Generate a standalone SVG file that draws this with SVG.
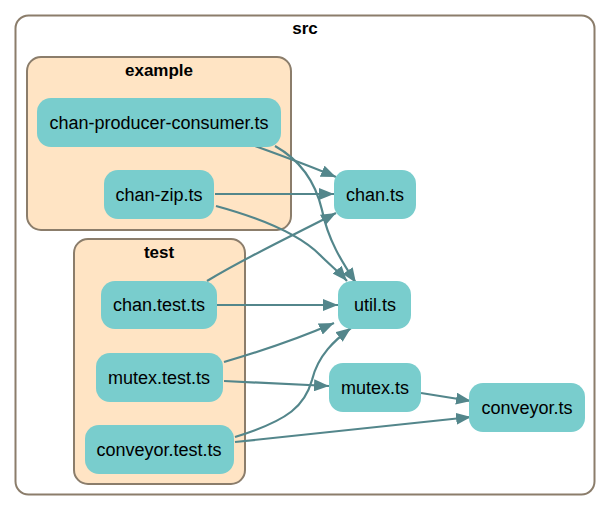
<svg xmlns="http://www.w3.org/2000/svg" width="608" height="511" viewBox="0 0 608 511">
<style>
.cl{stroke:#8b7d6b;stroke-width:2}
.nd{fill:#79cdcd;stroke:none}
.t{font-family:"Liberation Sans",Arial,sans-serif;font-size:18px;fill:#000;text-anchor:middle}
.ct{font-family:"Liberation Sans",Arial,sans-serif;font-size:17px;font-weight:bold;fill:#000;text-anchor:middle}
.e{fill:none;stroke:#53868b;stroke-width:2.2}
</style>
<defs>
<marker id="ah" markerUnits="userSpaceOnUse" markerWidth="16" markerHeight="12" refX="15" refY="6" orient="auto">
<path d="M0,0 L15,6 L0,12 z" fill="#53868b"/>
</marker>
</defs>
<rect width="608" height="511" fill="#fff"/>
<g id="cluster_src">
<rect class="cl" x="15.5" y="15.5" width="579" height="479" rx="13" fill="#fff"/>
<text class="ct" x="305" y="34">src</text>
</g>
<g id="cluster_example">
<rect class="cl" x="27" y="57" width="264" height="173" rx="14" fill="#ffe4c4"/>
<text class="ct" x="159" y="76">example</text>
</g>
<g id="cluster_test">
<rect class="cl" x="74" y="239" width="171" height="245" rx="14" fill="#ffe4c4"/>
<text class="ct" x="159" y="258">test</text>
</g>
<g id="edges">
<path class="e" marker-end="url(#ah)" d="M255,146 C 280,155 310,166 336,177"/>
<path class="e" marker-end="url(#ah)" d="M275,146 C 300,160 315,180 322,210 C 328,240 342,262 356,283"/>
<path class="e" marker-end="url(#ah)" d="M215,194 L334,194"/>
<path class="e" marker-end="url(#ah)" d="M216,206 C 260,218 300,235 320,255 C 330,265 340,273 347,281"/>
<path class="e" marker-end="url(#ah)" d="M207,281 C 250,255 300,232 336,213"/>
<path class="e" marker-end="url(#ah)" d="M217,305 L338,305"/>
<path class="e" marker-end="url(#ah)" d="M224,362 C 265,350 300,338 334,323"/>
<path class="e" marker-end="url(#ah)" d="M224,381 L329,386"/>
<path class="e" marker-end="url(#ah)" d="M235,437 C 290,420 305,405 312,380 C 318,355 335,340 351,328"/>
<path class="e" marker-end="url(#ah)" d="M235,442 C 320,433 400,425 471,417"/>
<path class="e" marker-end="url(#ah)" d="M421,393 L471,401"/>
</g>
<g id="chan-producer-consumer"><rect class="nd" x="37" y="98" width="244" height="49" rx="14"/><text class="t" x="159" y="129">chan-producer-consumer.ts</text></g>
<g id="chan-zip"><rect class="nd" x="104" y="170" width="110" height="49" rx="14"/><text class="t" x="159" y="201">chan-zip.ts</text></g>
<g id="chan"><rect class="nd" x="334" y="170" width="82" height="49" rx="14"/><text class="t" x="375" y="201">chan.ts</text></g>
<g id="chan-test"><rect class="nd" x="101" y="281" width="116" height="48" rx="14"/><text class="t" x="159" y="311">chan.test.ts</text></g>
<g id="util"><rect class="nd" x="338" y="281" width="73" height="48" rx="14"/><text class="t" x="375" y="311">util.ts</text></g>
<g id="mutex-test"><rect class="nd" x="96" y="353" width="127" height="49" rx="14"/><text class="t" x="159" y="384">mutex.test.ts</text></g>
<g id="mutex"><rect class="nd" x="329" y="363" width="92" height="49" rx="14"/><text class="t" x="375" y="394">mutex.ts</text></g>
<g id="conveyor-test"><rect class="nd" x="85" y="425" width="149" height="49" rx="14"/><text class="t" x="159" y="456">conveyor.test.ts</text></g>
<g id="conveyor"><rect class="nd" x="469" y="383" width="116" height="49" rx="14"/><text class="t" x="527" y="414">conveyor.ts</text></g>
</svg>
